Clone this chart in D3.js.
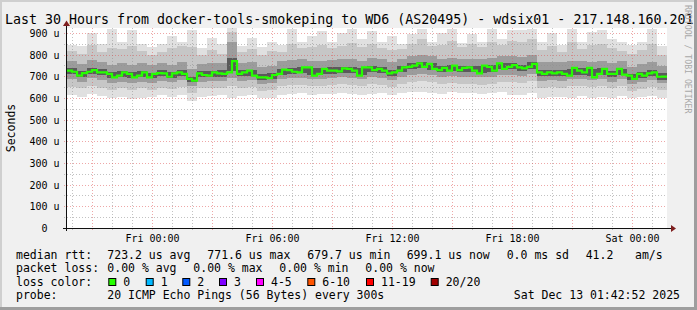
<!DOCTYPE html>
<html>
<head>
<meta charset="utf-8">
<script src="https://cdn.jsdelivr.net/npm/d3@7"></script>
<style>
html, body { margin: 0; padding: 0; background: #f0f0f0; }
svg { display: block; font-family: "DejaVu Sans Mono", monospace; }
.pre { white-space: pre; }
</style>
</head>
<body>
<svg class="svg-canvas" width="697" height="310"></svg>
<script>
var title = "Last 30 Hours from docker-tools-smokeping to WD6 (AS20495) - wdsix01 - 217.148.160.201";
var startTime = Date.UTC(2025, 11, 11, 19, 45);
var endTime = Date.UTC(2025, 11, 13, 1, 45);

// median rtt (us), one value per 15 minutes
var median = [
  726, 721, 703, 715, 721, 729, 718, 718, 711, 695, 703, 718, 711, 695, 703, 718, 695, 711, 715, 714, 698, 714, 718, 711, 688, 680, 714, 706, 703, 718,
  714, 711, 718, 770, 711, 718, 726, 703, 695, 695, 692, 706, 711, 731, 729, 721, 718, 741, 741, 703, 711, 734, 726, 726, 723, 737, 734, 726, 703, 741,
  741, 729, 734, 726, 714, 718, 726, 741, 744, 749, 760, 744, 757, 734, 729, 739, 726, 749, 729, 739, 741, 726, 714, 749, 744, 726, 760, 734, 744, 752,
  741, 737, 744, 757, 718, 711, 718, 714, 718, 711, 703, 739, 726, 718, 739, 695, 711, 734, 711, 711, 734, 708, 703, 688, 711, 703, 714, 718, 698, 699
];

// smoke envelopes (us), one value per 30 minutes
var smokeMax = [
  845, 840, 900, 850, 920, 860, 915, 850, 835, 850, 885, 860, 915, 830, 875,
  850, 925, 840, 875, 835, 860, 845, 920, 860, 885, 910, 860, 900, 920, 870,
  910, 860, 885, 850, 895, 920, 860, 900, 920, 855, 895, 860, 920, 870, 915,
  915, 920, 860, 900, 845, 920, 860, 905, 915, 870, 860, 845, 860, 920, 840
];
var smokeHi90 = [
  815, 805, 845, 812, 830, 825, 840, 815, 800, 810, 830, 840, 835, 800, 820,
  805, 905, 810, 825, 800, 815, 810, 850, 830, 835, 845, 830, 840, 855, 835,
  850, 830, 820, 825, 850, 870, 840, 845, 865, 835, 850, 835, 860, 845, 865,
  860, 870, 820, 840, 810, 860, 825, 845, 850, 830, 815, 805, 820, 850, 800
];
var smokeHi75 = [
  770, 758, 776, 765, 752, 760, 754, 760, 750, 762, 754, 764, 735, 758, 760,
  760, 860, 762, 764, 745, 748, 770, 775, 778, 770, 772, 775, 780, 778, 770,
  784, 778, 765, 782, 795, 800, 794, 782, 786, 782, 782, 780, 784, 795, 796,
  788, 800, 764, 765, 764, 770, 772, 766, 772, 760, 770, 745, 756, 765, 748
];
var coreHi = [
  738, 724, 738, 732, 718, 725, 718, 726, 717, 729, 721, 729, 699, 725, 726,
  727, 785, 729, 730, 710, 714, 736, 739, 744, 737, 738, 741, 745, 744, 737,
  749, 745, 731, 748, 761, 766, 760, 749, 752, 748, 749, 747, 750, 761, 762,
  753, 765, 730, 731, 730, 736, 737, 732, 738, 726, 736, 711, 722, 731, 714
];
var coreLo = [
  710, 696, 710, 705, 690, 697, 691, 698, 690, 701, 693, 702, 672, 697, 698,
  699, 724, 701, 702, 682, 686, 707, 711, 716, 708, 709, 712, 716, 715, 708,
  720, 716, 702, 719, 732, 737, 731, 720, 723, 719, 720, 717, 720, 732, 733,
  724, 736, 700, 702, 701, 706, 707, 702, 708, 697, 706, 682, 693, 701, 685
];
var smokeLo25 = [
  688, 676, 690, 683, 670, 676, 668, 676, 668, 680, 672, 682, 654, 676, 677,
  678, 694, 680, 681, 664, 668, 686, 690, 694, 688, 688, 692, 696, 694, 688,
  698, 694, 684, 698, 708, 712, 706, 698, 702, 698, 698, 696, 698, 708, 708,
  702, 712, 680, 682, 680, 686, 688, 682, 688, 676, 686, 664, 674, 682, 668
];
var smokeLo10 = [
  652, 645, 655, 648, 638, 645, 636, 644, 638, 648, 640, 650, 625, 645, 646,
  648, 655, 648, 650, 632, 636, 654, 658, 662, 655, 656, 660, 664, 662, 656,
  665, 662, 652, 665, 675, 678, 672, 665, 668, 664, 665, 662, 665, 675, 676,
  668, 678, 648, 650, 648, 654, 655, 650, 656, 645, 654, 632, 642, 650, 638
];
var smokeMin = [
  612, 606, 618, 610, 598, 604, 596, 602, 606, 612, 604, 612, 588, 606, 610,
  612, 602, 608, 612, 598, 602, 615, 618, 622, 616, 618, 620, 625, 620, 616,
  620, 622, 614, 624, 628, 626, 624, 620, 626, 622, 624, 620, 622, 626, 612,
  614, 622, 602, 606, 604, 602, 608, 598, 606, 602, 610, 598, 606, 610, 602
];

var yTicks = [0, 100, 200, 300, 400, 500, 600, 700, 800, 900];
var yLabels = ["0  ", "100 u", "200 u", "300 u", "400 u", "500 u", "600 u", "700 u", "800 u", "900 u"];
var xTickTimes = [Date.UTC(2025, 11, 12, 0), Date.UTC(2025, 11, 12, 6), Date.UTC(2025, 11, 12, 12), Date.UTC(2025, 11, 12, 18), Date.UTC(2025, 11, 13, 0)];
var xLabels = ["Fri 00:00", "Fri 06:00", "Fri 12:00", "Fri 18:00", "Sat 00:00"];

var lossLabels = ["0", "1", "2", "3", "4-5", "6-10", "11-19", "20/20"];
var lossColors = ["#26ff00", "#00b8ff", "#0059ff", "#7e00ff", "#ff00ff", "#ff5500", "#ff0000", "#a10000"];

var statsRtt = [["median rtt:", 16], ["723.2 us avg", 107.3], ["771.6 us max", 207.3], ["679.7 us min", 307.3], ["699.1 us now", 406.7], ["0.0 ms sd", 506.7], ["41.2", 585.7], ["am/s", 635]];
var statsLoss = [["packet loss:", 16], ["0.00 % avg", 107.3], ["0.00 % max", 193.3], ["0.00 % min", 279.3], ["0.00 % now", 365.3]];
var probeText = "20 ICMP Echo Pings (56 Bytes) every 300s";
var stamp = "Sat Dec 13 01:42:52 2025";

var svg = d3.select(".svg-canvas");
var W = 697, H = 310;
var plotL = 67, plotR = 667, plotT = 28, plotB = 228;

// frame
svg.append("rect").attr("width", W).attr("height", H).attr("fill", "#f0f0f0");
svg.append("rect").attr("x", 0).attr("y", 0).attr("width", W).attr("height", 2).attr("fill", "#cfcfcf");
svg.append("rect").attr("x", 0).attr("y", 0).attr("width", 2).attr("height", H).attr("fill", "#cfcfcf");
svg.append("rect").attr("x", W - 3).attr("y", 0).attr("width", 3).attr("height", H).attr("fill", "#9e9e9e");
svg.append("rect").attr("x", 0).attr("y", H - 3).attr("width", W).attr("height", 3).attr("fill", "#9e9e9e");

var x = d3.scaleUtc().domain([startTime, endTime]).range([plotL, plotR]);
var y = d3.scaleLinear().domain([0, 923]).range([plotB, plotT]);

svg.append("rect").attr("x", plotL).attr("y", plotT).attr("width", plotR - plotL).attr("height", plotB - plotT).attr("fill", "#ffffff");

// smoke
var halfHour = 30 * 60 * 1000;
var slots = smokeMax.map(function(d, i) {
  return { t: startTime + i * halfHour, max: d, h90: smokeHi90[i], h75: smokeHi75[i], ch: coreHi[i], cl: coreLo[i], l25: smokeLo25[i], l10: smokeLo10[i], min: smokeMin[i] };
});
slots.push(Object.assign({}, slots[slots.length - 1], { t: endTime }));

var bands = [
  ["min", "max", "#e0e0e0"],
  ["l10", "h90", "#c6c6c6"],
  ["l25", "h75", "#9c9c9c"],
  ["cl", "ch", "#5a5a5a"]
];
var plot = svg.append("g");
bands.forEach(function(b) {
  var area = d3.area()
    .x(function(d) { return x(d.t); })
    .y0(function(d) { return y(d[b[0]]); })
    .y1(function(d) { return y(d[b[1]]); })
    .curve(d3.curveStepAfter);
  plot.append("path").datum(slots).attr("d", area).attr("fill", b[2]).attr("shape-rendering", "crispEdges");
});

// grid on top
var quarter = 15 * 60 * 1000;
var hourTimes = d3.utcHour.range(new Date(startTime), new Date(endTime + 1));
var grid = svg.append("g");
d3.range(50, 923, 100).forEach(function(v) {
  grid.append("line").attr("x1", plotL - 3).attr("x2", plotR).attr("y1", Math.round(y(v)) + 0.5).attr("y2", Math.round(y(v)) + 0.5)
    .attr("stroke", "rgba(143,143,143,0.55)").attr("stroke-dasharray", "1,2");
});
hourTimes.forEach(function(t) {
  var major = t.getUTCHours() % 3 === 0;
  var px = Math.round(x(t)) + 0.5;
  grid.append("line").attr("x1", px).attr("x2", px).attr("y1", plotT).attr("y2", plotB + 3)
    .attr("stroke", major ? "rgba(222,80,80,0.5)" : "rgba(143,143,143,0.55)").attr("stroke-dasharray", "1,2");
});
yTicks.slice(1).forEach(function(v) {
  grid.append("line").attr("x1", plotL - 3).attr("x2", plotR).attr("y1", Math.round(y(v)) + 0.5).attr("y2", Math.round(y(v)) + 0.5)
    .attr("stroke", "rgba(222,80,80,0.5)").attr("stroke-dasharray", "1,2");
});

// median line
var medData = median.map(function(d, i) { return { t: startTime + i * quarter, v: d }; });
medData.push({ t: endTime, v: median[median.length - 1] });
var line = d3.line().x(function(d) { return x(d.t); }).y(function(d) { return y(d.v); }).curve(d3.curveStepAfter);
svg.append("path").datum(medData).attr("d", line).attr("fill", "none").attr("stroke", lossColors[0]).attr("stroke-width", 2.2);

// axes
svg.append("line").attr("x1", plotL - 4).attr("x2", plotR + 4).attr("y1", plotB + 0.5).attr("y2", plotB + 0.5).attr("stroke", "#101010");
svg.append("line").attr("x1", plotL - 0.5).attr("x2", plotL - 0.5).attr("y1", plotT - 2).attr("y2", plotB + 3).attr("stroke", "#101010");
svg.append("path").attr("d", "M" + (plotR + 4) + "," + (plotB - 3) + "L" + (plotR + 9) + "," + (plotB + 0.5) + "L" + (plotR + 4) + "," + (plotB + 4) + "Z").attr("fill", "#7f1f1f");
svg.append("path").attr("d", "M" + (plotL - 4) + "," + (plotT - 2) + "L" + (plotL - 0.5) + "," + (plotT - 7.5) + "L" + (plotL + 3) + "," + (plotT - 2) + "Z").attr("fill", "#7f1f1f");

var yAxis = d3.axisLeft(y).tickValues(yTicks).tickSize(0).tickPadding(0)
  .tickFormat(function(d, i) { return yLabels[i]; });
var yg = svg.append("g").attr("transform", "translate(" + 59.5 + ",0)").call(yAxis);
yg.select(".domain").remove();
yg.selectAll("text").attr("class", "pre").attr("font-family", "DejaVu Sans Mono").attr("font-size", 10).attr("fill", "#000").attr("dy", "0.35em");

var xAxis = d3.axisBottom(x).tickValues(xTickTimes).tickSize(0).tickPadding(0)
  .tickFormat(function(d, i) { return xLabels[i]; });
var xg = svg.append("g").attr("transform", "translate(0," + 235 + ")").call(xAxis);
xg.select(".domain").remove();
xg.selectAll("text").attr("font-family", "DejaVu Sans Mono").attr("font-size", 10).attr("fill", "#000").attr("dy", "0.71em");

// title and labels
svg.append("text").attr("x", 5).attr("y", 23.5).attr("font-size", 13.3).attr("fill", "#000").text(title);
svg.append("text").attr("transform", "translate(14.5,128) rotate(-90)").attr("text-anchor", "middle").attr("font-size", 11.5).text("Seconds");
svg.append("text").attr("transform", "translate(684.5,5) rotate(90)").attr("font-size", 8.2).attr("fill", "#a8a8a8").text("RRDTOOL / TOBI OETIKER");

// legend
var legend = svg.append("g").attr("font-size", 11.5).attr("fill", "#000");
statsRtt.forEach(function(s) { legend.append("text").attr("x", s[1]).attr("y", 258.5).text(s[0]); });
statsLoss.forEach(function(s) { legend.append("text").attr("x", s[1]).attr("y", 272).text(s[0]); });
legend.append("text").attr("x", 16).attr("y", 285.7).text("loss color:");
var sqX = [108.3, 145.7, 182.3, 219, 256, 307.3, 366, 430.7];
lossLabels.forEach(function(l, i) {
  legend.append("rect").attr("x", sqX[i] + 0.5).attr("y", 278.5).attr("width", 7).attr("height", 7)
    .attr("fill", lossColors[i]).attr("stroke", "#000").attr("stroke-width", 1);
  legend.append("text").attr("x", sqX[i] + 15).attr("y", 285.7).text(l);
});
legend.append("text").attr("x", 16).attr("y", 299.3).text("probe:");
legend.append("text").attr("x", 107.3).attr("y", 299.3).text(probeText);
legend.append("text").attr("x", 680).attr("y", 299.3).attr("text-anchor", "end").text(stamp);
</script>
</body>
</html>
